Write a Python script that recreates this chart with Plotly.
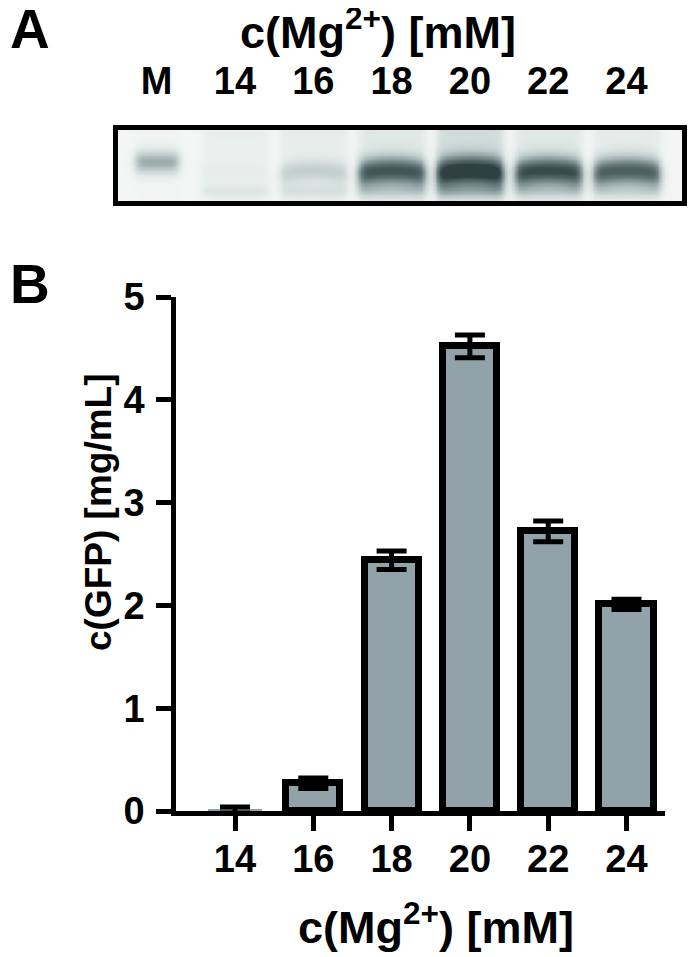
import numpy as np
import plotly.graph_objects as go

# ---------------- data ----------------
mg_conc = [14, 16, 18, 20, 22, 24]                 # c(Mg2+) [mM]
gfp_mean = [0.01, 0.27, 2.44, 4.52, 2.72, 2.01]    # c(GFP) [mg/mL]
gfp_err = [0.03, 0.05, 0.09, 0.11, 0.10, 0.05]
y_ticks = [0, 1, 2, 3, 4, 5]

lane_labels = ["M", "14", "16", "18", "20", "22", "24"]
lane_pos = [12, 14, 16, 18, 20, 22, 24]
band_main = [0.42, 0.03, 0.20, 0.82, 1.00, 0.88, 0.78]   # main GFP band intensity
band_low = [0.00, 0.08, 0.10, 0.16, 0.20, 0.15, 0.12]    # lower faint band
lane_smear = [0.02, 0.05, 0.07, 0.10, 0.18, 0.10, 0.08]  # lane background

W, H = 700, 957
OFF = 8  # page body margin of the html page
FONT = "Liberation Sans, Arial, sans-serif"

def px_x(p):
    return (p - OFF) / W

def px_y(p):
    return 1 - (p - OFF) / H

PX_PER_UNIT = 39.15
X14_PX = 235.0
def unit_at(px):
    return 14 + (px - X14_PX) / PX_PER_UNIT

ax_left, ax_right = 176, 665
ax_top, ax_bottom = 297, 811
gel_left, gel_right, gel_top, gel_bottom = 118, 682, 130, 201

# ---------------- gel rendering ----------------
gx = np.linspace(unit_at(gel_left), unit_at(gel_right), 400)
gy = np.linspace(0, 1, 90)
GX, GY = np.meshgrid(gx, gy)
Z = np.zeros_like(GX)

def lateral(xc, hw, soft=0.25):
    return 1 / (1 + np.exp((np.abs(GX - xc) - hw) / soft * 4))

for i, xc in enumerate(lane_pos):
    is_marker = lane_labels[i] == "M"
    hw = 0.55 if is_marker else 0.85
    lat = lateral(xc, hw)
    pos = 0.45 if is_marker else 0.57
    sig = 0.11 if is_marker else (0.10 + 0.05 * band_main[i])
    yc = pos + (0 if is_marker else 0.05 * ((GX - xc) / hw) ** 2)
    main = band_main[i] * np.exp(-0.5 * ((GY - yc) / sig) ** 2)
    low = band_low[i] * np.exp(-0.5 * ((GY - 0.86) / 0.07) ** 2)
    smear = lane_smear[i] * (0.6 + 0.4 * (1 - GY))
    Z += lat * (main + low + smear)
Z = np.clip(Z, 0, 1)

gel_colorscale = [
    [0.0, "#f3f6f5"],
    [0.08, "#e4ebe9"],
    [0.3, "#bac8c7"],
    [0.6, "#768b8a"],
    [1.0, "#304040"],
]

fig = go.Figure()

fig.add_trace(go.Heatmap(
    x=gx, y=gy, z=Z, zmin=0, zmax=1,
    colorscale=gel_colorscale, showscale=False, zsmooth="best",
    xaxis="x2", yaxis="y2", hoverinfo="skip",
))

# outline hidden by the axis line for the (near-zero) first bar
outline_w = [0 if v < 0.05 else 7 for v in gfp_mean]

fig.add_trace(go.Bar(
    x=mg_conc, y=gfp_mean, width=1.38,
    marker=dict(color="#91a3a8", line=dict(color="black", width=outline_w)),
    error_y=dict(type="data", array=gfp_err, visible=True,
                 color="black", thickness=5, width=15),
    xaxis="x", yaxis="y",
))

tick_font = dict(family=FONT, size=38, color="black", weight="bold")
title_font = dict(family=FONT, size=45, color="black", weight="bold")

fig.update_layout(
    width=W, height=H, autosize=False,
    margin=dict(l=0, r=0, t=0, b=0, autoexpand=False),
    paper_bgcolor="white", plot_bgcolor="white",
    showlegend=False,
    bargap=0,
    xaxis=dict(
        domain=[px_x(ax_left), px_x(ax_right)],
        range=[unit_at(ax_left), unit_at(ax_right)],
        tickvals=mg_conc, ticktext=[str(v) for v in mg_conc],
        ticks="outside", ticklen=15, tickwidth=4.5, tickcolor="black",
        showline=True, linewidth=4.5, linecolor="black",
        showgrid=False, zeroline=False, tickfont=tick_font,
        ticklabelstandoff=-4, automargin=False,
        anchor="y", fixedrange=True,
    ),
    yaxis=dict(
        domain=[px_y(ax_bottom), px_y(ax_top)],
        range=[0, 5], tickvals=y_ticks,
        ticks="outside", ticklen=15, tickwidth=4.5, tickcolor="black",
        showline=True, linewidth=4.5, linecolor="black",
        showgrid=False, zeroline=False, tickfont=tick_font,
        ticklabelstandoff=4, automargin=False,
        anchor="x", fixedrange=True,
    ),
    xaxis2=dict(
        domain=[px_x(gel_left), px_x(gel_right)],
        range=[unit_at(gel_left), unit_at(gel_right)],
        tickvals=lane_pos, ticktext=lane_labels, side="top",
        ticks="", tickfont=tick_font, ticklabelstandoff=16, automargin=False,
        showline=True, mirror=True, linewidth=5, linecolor="black",
        showgrid=False, zeroline=False, anchor="y2", fixedrange=True,
    ),
    yaxis2=dict(
        domain=[px_y(gel_bottom), px_y(gel_top)],
        range=[1, 0], showticklabels=False, ticks="", automargin=False,
        showline=True, mirror=True, linewidth=5, linecolor="black",
        showgrid=False, zeroline=False, anchor="x2", fixedrange=True,
    ),
    annotations=[
        dict(text="A", x=px_x(8), y=px_y(-4), xref="paper", yref="paper",
             xanchor="left", yanchor="top", showarrow=False,
             font=dict(family=FONT, size=55, color="black", weight="bold")),
        dict(text="B", x=px_x(8), y=px_y(251), xref="paper", yref="paper",
             xanchor="left", yanchor="top", showarrow=False,
             font=dict(family=FONT, size=55, color="black", weight="bold")),
        dict(text="c(Mg<sup>2+</sup>) [mM]", x=px_x(378), y=px_y(-2), xref="paper", yref="paper",
             xanchor="center", yanchor="top", showarrow=False, font=title_font),
        dict(text="c(Mg<sup>2+</sup>) [mM]", x=px_x(436), y=px_y(893), xref="paper", yref="paper",
             xanchor="center", yanchor="top", showarrow=False, font=title_font),
        dict(text="c(GFP) [mg/mL]", x=px_x(98), y=px_y(512), xref="paper", yref="paper",
             xanchor="center", yanchor="middle", textangle=-90, showarrow=False,
             font=dict(family=FONT, size=37, color="black", weight="bold")),
    ],
)

fig.write_html("out.html")
